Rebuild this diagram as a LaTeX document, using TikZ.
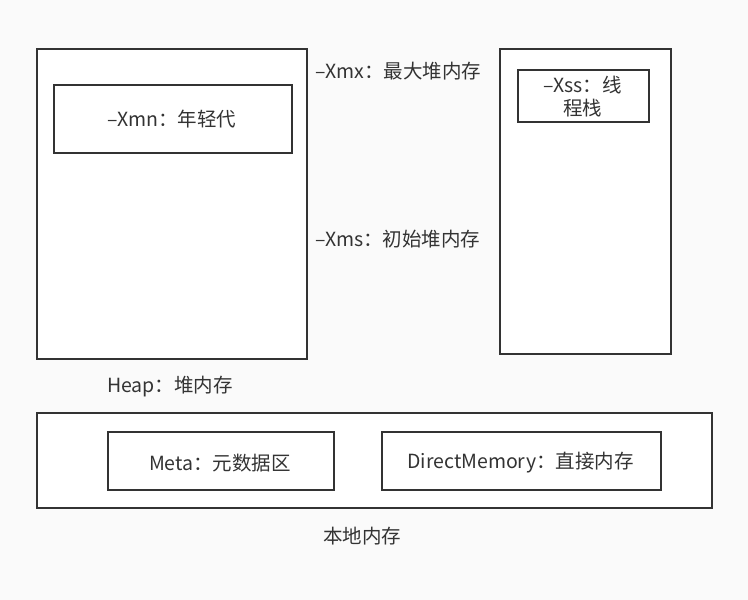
\documentclass[tikz,border=0pt]{standalone}
\usepackage{fontspec}
\setmainfont{Noto Sans CJK SC}
\definecolor{ink}{HTML}{333333}
\begin{document}
\begin{tikzpicture}[x=1pt,y=-1pt,
  box/.style={draw=ink,line width=2.3pt,fill=white},
  lbl/.style={font=\fontsize{19.5}{23}\selectfont,text=ink,inner sep=0pt}]
\fill[black!2] (0,0) rectangle (748,600);
\useasboundingbox (0,0) rectangle (748,600);
% heap
\draw[box] (37,49) rectangle (307,359);
\node[box,minimum width=238pt,minimum height=68pt,anchor=north west,inner sep=0pt] (young) at (53,84) {};
\node[lbl] (youngt) at (172,119) {–Xmn：年轻代};
% stack
\draw[box] (500,49) rectangle (671,354);
\node[box,minimum width=131pt,minimum height=52pt,anchor=north west,inner sep=0pt] (xss) at (517,69) {};
\node[lbl,align=center] (xsst) at (582.5,97) {–Xss：线\\程栈};
% labels
\node[lbl,anchor=west] (xmx) at (315,71) {–Xmx：最大堆内存};
\node[lbl,anchor=west] (xms) at (315,239) {–Xms：初始堆内存};
\node[lbl,anchor=west] (heap) at (107,387) {Heap：堆内存};
% native
\draw[box] (37,413) rectangle (712,508);
\node[box,minimum width=226pt,minimum height=58pt,anchor=north west,inner sep=0pt] (meta) at (107,431) {};
\node[lbl] (metat) at (220,463) {Meta：元数据区};
\node[box,minimum width=279pt,minimum height=58pt,anchor=north west,inner sep=0pt] (direct) at (381,431) {};
\node[lbl] (directt) at (520.5,463) {DirectMemory：直接内存};
\node[lbl] (native) at (362,536) {本地内存};
\end{tikzpicture}
\end{document}
